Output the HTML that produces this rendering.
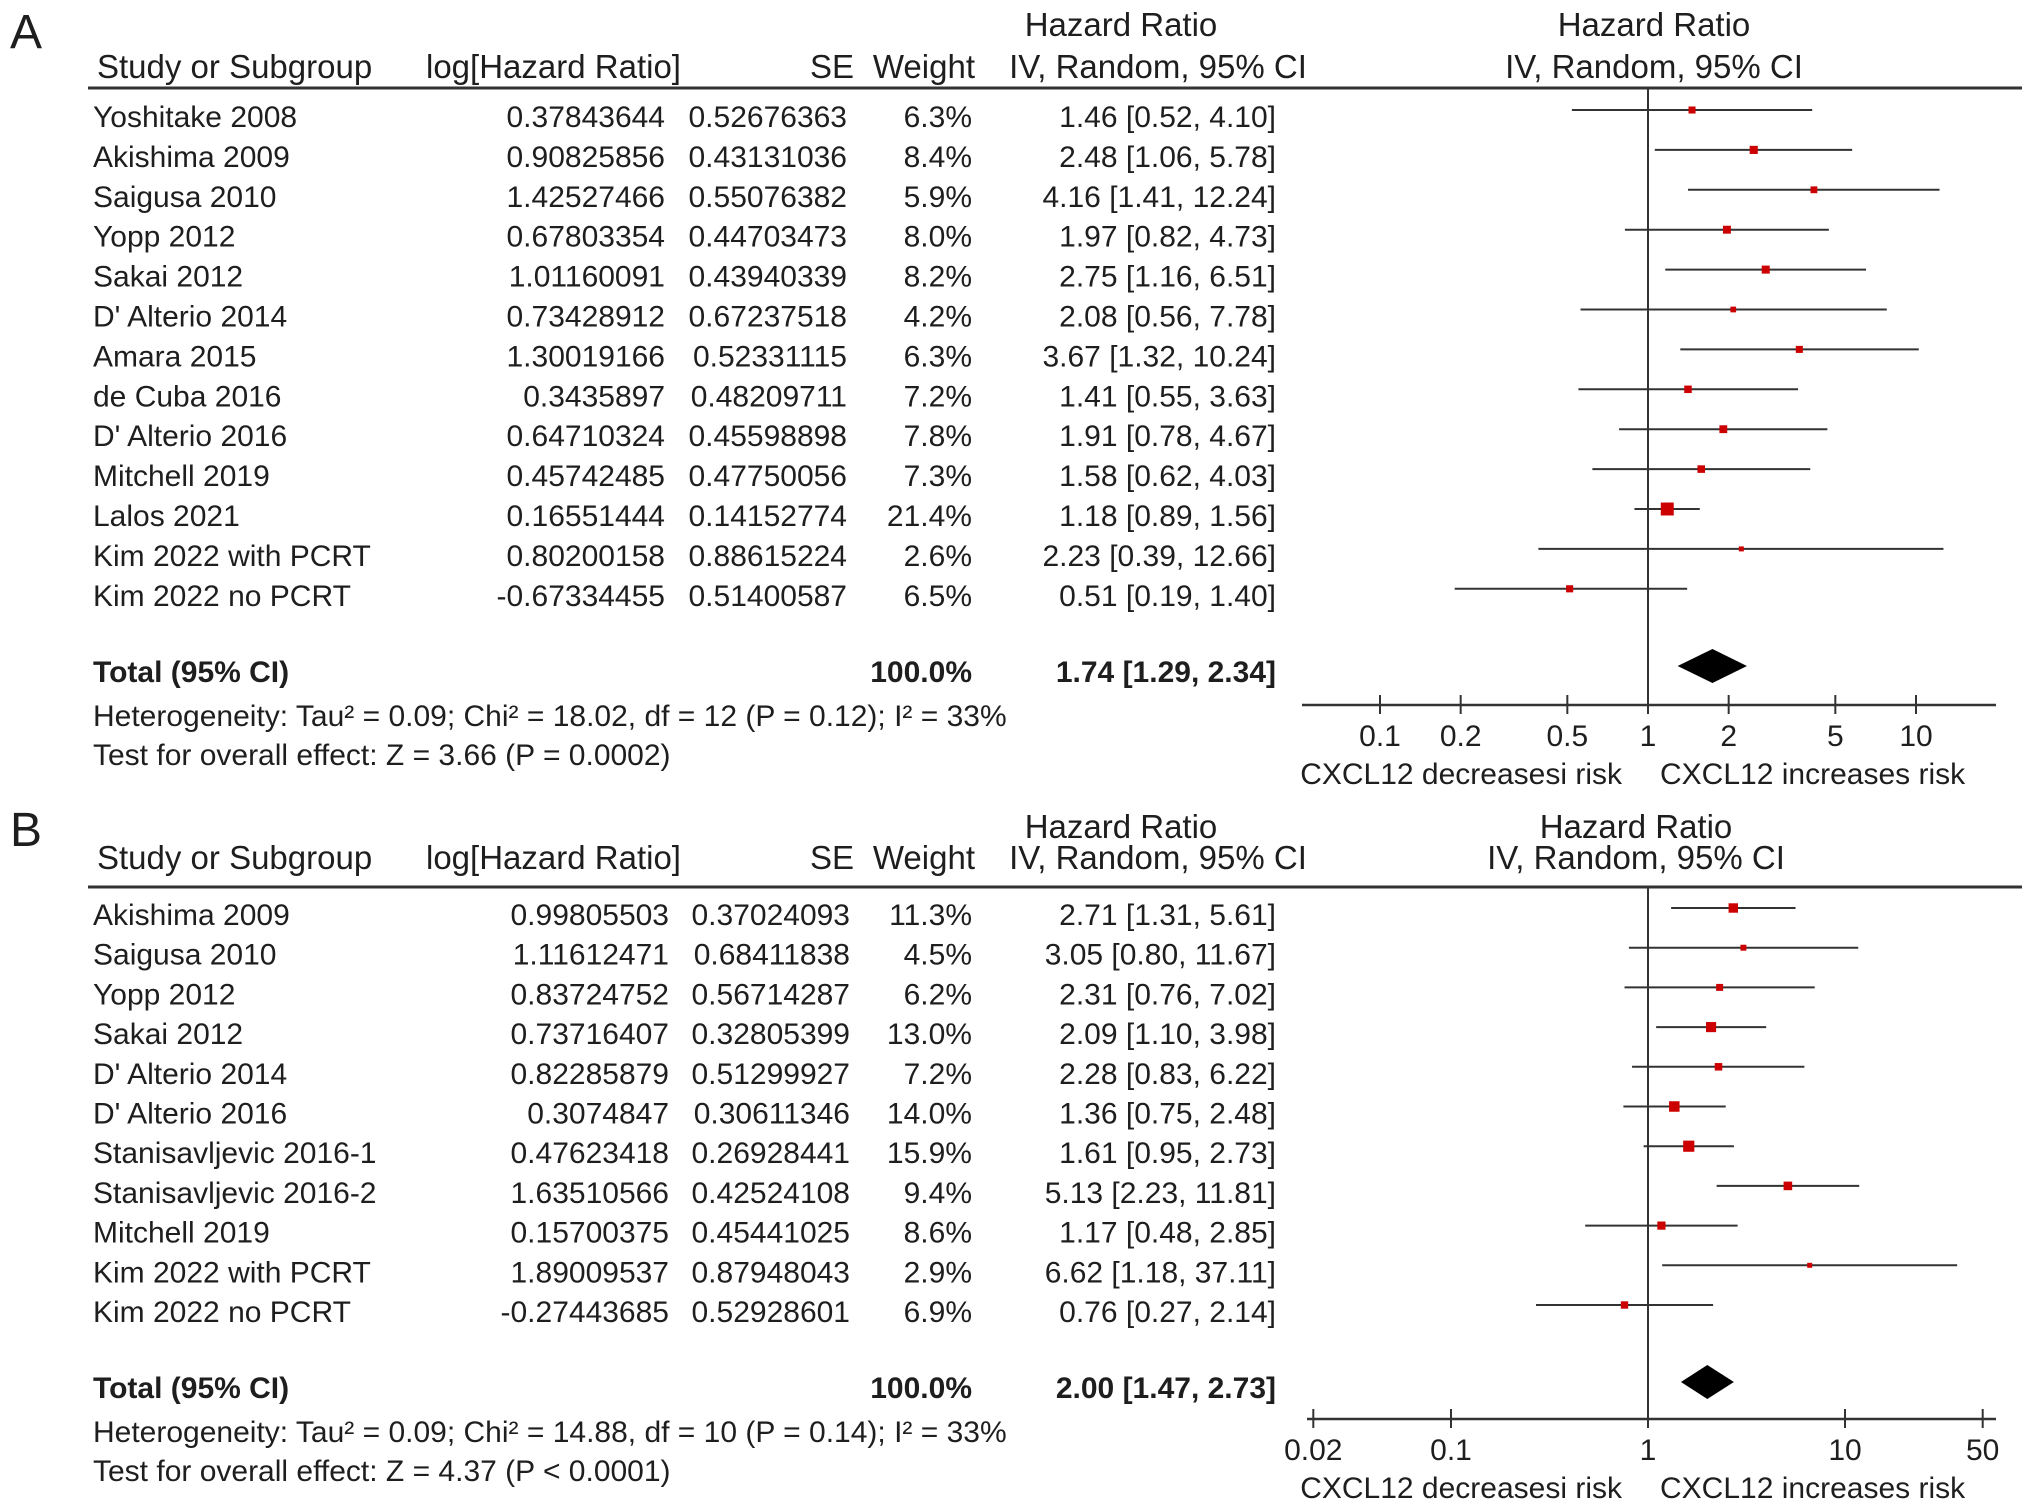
<!DOCTYPE html>
<html><head><meta charset="utf-8"><style>
html,body{margin:0;padding:0;background:#fff;}
svg{display:block;font-family:"Liberation Sans",Arial,sans-serif;}
text{fill:#1e1e1e;}
</style></head><body>
<svg id="fig" width="2032" height="1509" viewBox="0 0 2032 1509" xmlns="http://www.w3.org/2000/svg"></svg>
<script>
// ---- Panel A data ----
const studiesA = ["Yoshitake 2008","Akishima 2009","Saigusa 2010","Yopp 2012","Sakai 2012","D' Alterio 2014","Amara 2015","de Cuba 2016","D' Alterio 2016","Mitchell 2019","Lalos 2021","Kim 2022 with PCRT","Kim 2022 no PCRT"];
const logHrA = ["0.37843644","0.90825856","1.42527466","0.67803354","1.01160091","0.73428912","1.30019166","0.3435897","0.64710324","0.45742485","0.16551444","0.80200158","-0.67334455"];
const seA = ["0.52676363","0.43131036","0.55076382","0.44703473","0.43940339","0.67237518","0.52331115","0.48209711","0.45598898","0.47750056","0.14152774","0.88615224","0.51400587"];
const weightA = [6.3,8.4,5.9,8.0,8.2,4.2,6.3,7.2,7.8,7.3,21.4,2.6,6.5];
const hrA = [1.46,2.48,4.16,1.97,2.75,2.08,3.67,1.41,1.91,1.58,1.18,2.23,0.51];
const loA = [0.52,1.06,1.41,0.82,1.16,0.56,1.32,0.55,0.78,0.62,0.89,0.39,0.19];
const hiA = [4.10,5.78,12.24,4.73,6.51,7.78,10.24,3.63,4.67,4.03,1.56,12.66,1.40];
const totalA = [1.74,1.29,2.34];
const ticksA = [0.1,0.2,0.5,1,2,5,10];
const tickLabelsA = ["0.1","0.2","0.5","1","2","5","10"];
const hetA = "Heterogeneity: Tau² = 0.09; Chi² = 18.02, df = 12 (P = 0.12); I² = 33%";
const testA = "Test for overall effect: Z = 3.66 (P = 0.0002)";
// ---- Panel B data ----
const studiesB = ["Akishima 2009","Saigusa 2010","Yopp 2012","Sakai 2012","D' Alterio 2014","D' Alterio 2016","Stanisavljevic 2016-1","Stanisavljevic 2016-2","Mitchell 2019","Kim 2022 with PCRT","Kim 2022 no PCRT"];
const logHrB = ["0.99805503","1.11612471","0.83724752","0.73716407","0.82285879","0.3074847","0.47623418","1.63510566","0.15700375","1.89009537","-0.27443685"];
const seB = ["0.37024093","0.68411838","0.56714287","0.32805399","0.51299927","0.30611346","0.26928441","0.42524108","0.45441025","0.87948043","0.52928601"];
const weightB = [11.3,4.5,6.2,13.0,7.2,14.0,15.9,9.4,8.6,2.9,6.9];
const hrB = [2.71,3.05,2.31,2.09,2.28,1.36,1.61,5.13,1.17,6.62,0.76];
const loB = [1.31,0.80,0.76,1.10,0.83,0.75,0.95,2.23,0.48,1.18,0.27];
const hiB = [5.61,11.67,7.02,3.98,6.22,2.48,2.73,11.81,2.85,37.11,2.14];
const totalB = [2.00,1.47,2.73];
const ticksB = [0.02,0.1,1,10,50];
const tickLabelsB = ["0.02","0.1","1","10","50"];
const hetB = "Heterogeneity: Tau² = 0.09; Chi² = 14.88, df = 10 (P = 0.14); I² = 33%";
const testB = "Test for overall effect: Z = 4.37 (P < 0.0001)";

const NS = "http://www.w3.org/2000/svg";
const svg = document.getElementById("fig");
function mk(tag, attrs, parent){
  const e = document.createElementNS(NS, tag);
  for (const k in attrs) e.setAttribute(k, attrs[k]);
  (parent||svg).appendChild(e);
  return e;
}
function txt(s, x, y, anchor, name, parent, size, bold){
  const t = mk("text", {x:x, y:y, "text-anchor":anchor||"start"}, parent);
  t.style.fontSize = (size || 30) + "px";
  if (bold) t.style.fontWeight = "bold";
  t.textContent = s;
  
  
  return t;
}
function fmt(v){ return v.toFixed(2); }
const HS = 33;

function panel(cfg){
  const g = mk("g", {});
  
  
  const xs = v => cfg.x1 + Math.log10(v) * cfg.dec;
  txt(cfg.letter, 10, cfg.letterY, "start", cfg.id + "-label", g, 48);
  txt("Hazard Ratio", 1121, cfg.h1, "middle", "hr-header", g, HS);
  txt("Hazard Ratio", cfg.c2, cfg.h1, "middle", "hr-plot-header", g, HS);
  txt("Study or Subgroup", 97, cfg.h2, "start", "study-header", g, HS);
  txt("log[Hazard Ratio]", 426, cfg.h2, "start", "loghr-header", g, HS);
  txt("SE", 854, cfg.h2, "end", "se-header", g, HS);
  txt("Weight", 975, cfg.h2, "end", "weight-header", g, HS);
  txt("IV, Random, 95% CI", 1158, cfg.h2, "middle", "ci-header", g, HS);
  txt("IV, Random, 95% CI", cfg.c2, cfg.h2, "middle", "ci-plot-header", g, HS);
  const hl = mk("line", {x1:88, x2:2022, y1:cfg.hline, y2:cfg.hline, stroke:"#333", "stroke-width":3}, g);
  
  
  const nl = mk("line", {x1:xs(1), x2:xs(1), y1:cfg.hline, y2:cfg.axisY, stroke:"#333", "stroke-width":2}, g);
  
  
  cfg.studies.forEach((s, i) => {
    const y = cfg.row0 + i * cfg.rowH;
    txt(s, 93, y + 10, "start", "study-name", g);
    txt(cfg.logHr[i], cfg.logX, y + 10, "end", "loghr-value", g);
    txt(cfg.se[i], cfg.seX, y + 10, "end", "se-value", g);
    txt(cfg.weight[i].toFixed(1) + "%", 972, y + 10, "end", "weight-value", g);
    const ci = fmt(cfg.hr[i]) + " [" + fmt(cfg.lo[i]) + ", " + fmt(cfg.hi[i]) + "]";
    txt(ci, 1276, y + 10, "end", "ci-value", g);
    const ly = y - 7;
    const l = mk("line", {x1:xs(cfg.lo[i]), x2:xs(cfg.hi[i]), y1:ly, y2:ly, stroke:"#333", "stroke-width":2}, g);
    
    
    const sz = Math.max(5, 2.8 * Math.sqrt(cfg.weight[i]));
    const r = mk("rect", {x:xs(cfg.hr[i]) - sz/2, y:ly - sz/2, width:sz, height:sz, fill:"#cc0000"}, g);
    
    
  });
  const ty = cfg.totalY;
  txt("Total (95% CI)", 93, ty + 10, "start", "total-label", g, 30, true);
  txt("100.0%", 972, ty + 10, "end", "total-weight", g, 30, true);
  txt(fmt(cfg.total[0]) + " [" + fmt(cfg.total[1]) + ", " + fmt(cfg.total[2]) + "]", 1276, ty + 10, "end", "total-ci", g, 30, true);
  const dy = ty - 6;
  const d = mk("polygon", {points:[xs(cfg.total[1])+","+dy, xs(cfg.total[0])+","+(dy-17), xs(cfg.total[2])+","+dy, xs(cfg.total[0])+","+(dy+17)].join(" "), fill:"#000"}, g);
  
  
  txt(cfg.het, 93, cfg.hetY, "start", "heterogeneity-text", g);
  txt(cfg.test, 93, cfg.testY, "start", "overall-effect-text", g);
  const ax = mk("line", {x1:cfg.axL, x2:1996, y1:cfg.axisY, y2:cfg.axisY, stroke:"#333", "stroke-width":2.5}, g);
  
  
  cfg.ticks.forEach((t, i) => {
    const tk = mk("line", {x1:xs(t), x2:xs(t), y1:cfg.axisY - 10, y2:cfg.axisY + 9, stroke:"#333", "stroke-width":2}, g);
    
    
    txt(cfg.tickLabels[i], xs(t), cfg.axisY + 41, "middle", "x-tick-label", g);
  });
  txt("CXCL12 decreasesi risk", 1622, cfg.axisY + 79, "end", "favours-left-label", g);
  txt("CXCL12 increases risk", 1660, cfg.axisY + 79, "start", "favours-right-label", g);
}

panel({id:"a", letter:"A", letterY:48, h1:36, h2:78, hline:88, c2:1654, x1:1648, dec:268,
  studies:studiesA, logHr:logHrA, se:seA, weight:weightA, hr:hrA, lo:loA, hi:hiA,
  logX:665, seX:847, row0:117, rowH:39.9, total:totalA, totalY:672,
  het:hetA, test:testA, hetY:726, testY:765, axisY:705, axL:1302, ticks:ticksA, tickLabels:tickLabelsA});
panel({id:"b", letter:"B", letterY:846, h1:838, h2:869, hline:887, c2:1636, x1:1648, dec:197,
  studies:studiesB, logHr:logHrB, se:seB, weight:weightB, hr:hrB, lo:loB, hi:hiB,
  logX:669, seX:850, row0:915, rowH:39.7, total:totalB, totalY:1388,
  het:hetB, test:testB, hetY:1442, testY:1481, axisY:1419, axL:1307, ticks:ticksB, tickLabels:tickLabelsB});
</script>
</body></html>
